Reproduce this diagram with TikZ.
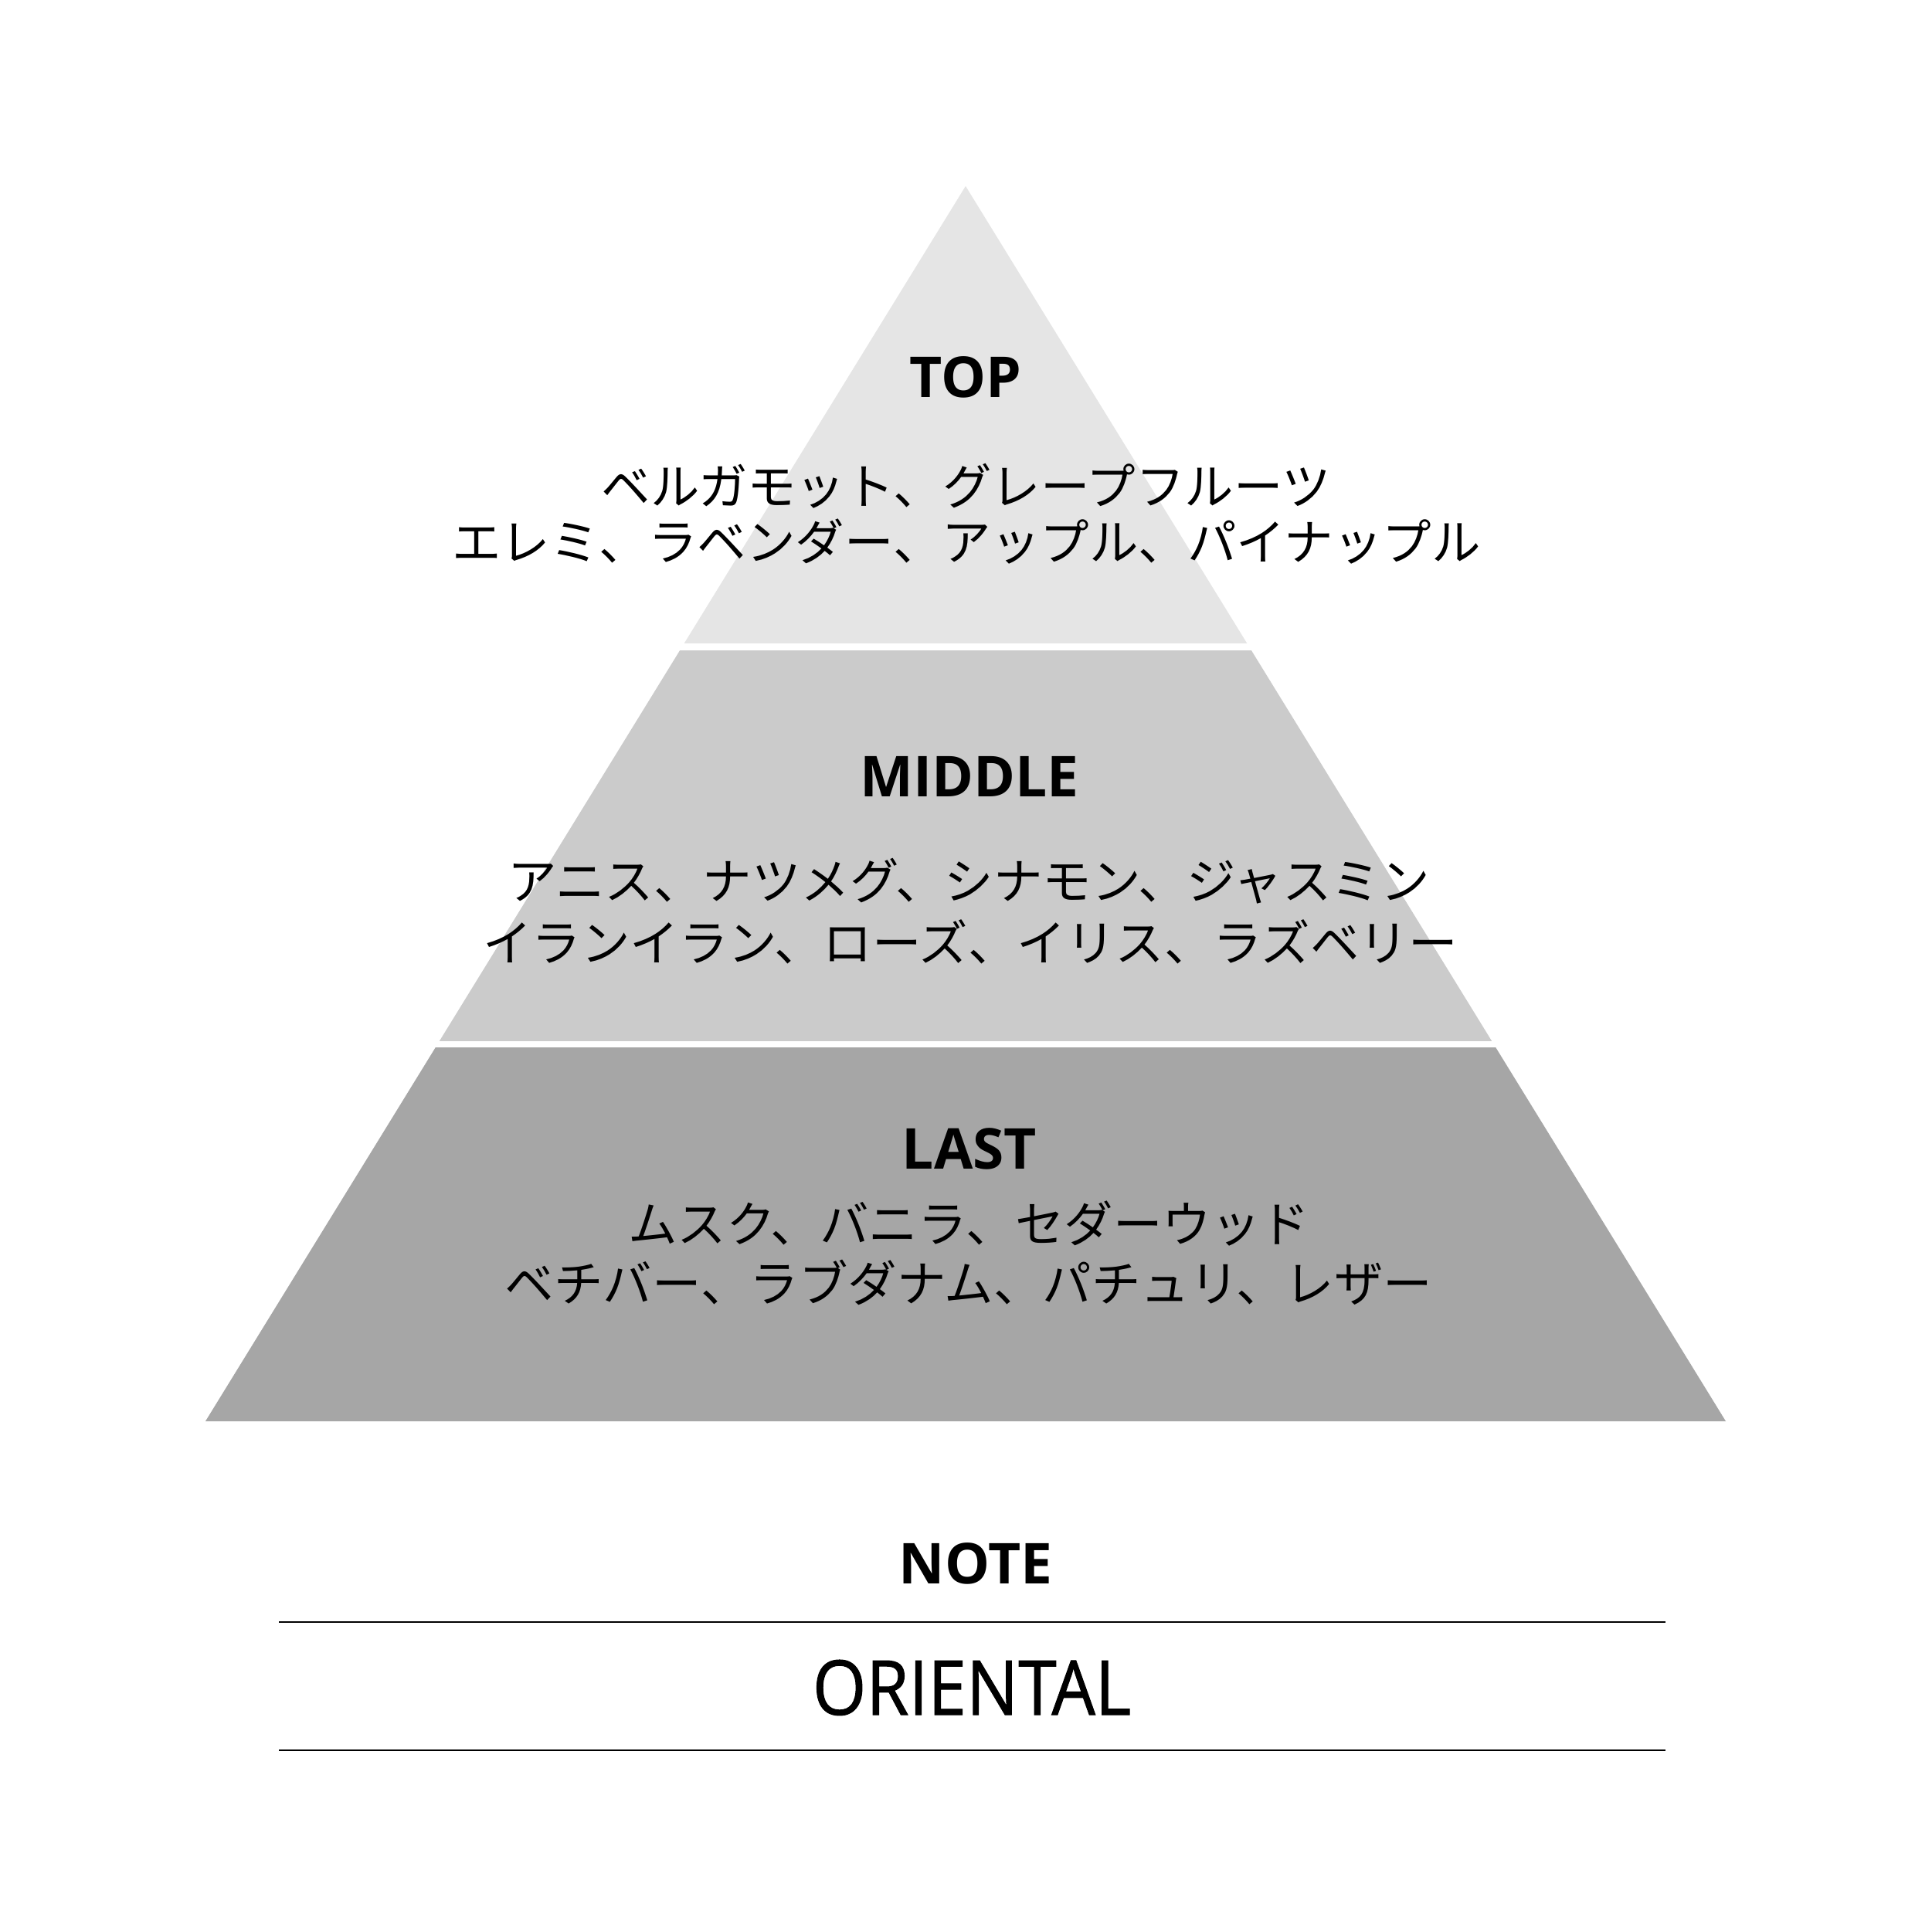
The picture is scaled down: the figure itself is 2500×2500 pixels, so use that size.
\documentclass[tikz,border=0pt]{standalone}
\usepackage{fontspec}
\setmainfont{Open Sans}
\newfontfamily\jpfont{Noto Sans CJK JP}
\newfontfamily\familyfont{Open Sans}[FakeStretch=0.91, FakeBold=1]
\usetikzlibrary{positioning}

\definecolor{topgray}{HTML}{E5E5E5}
\definecolor{middlegray}{HTML}{CBCBCB}
\definecolor{lastgray}{HTML}{A6A6A6}

\tikzset{
  notelabel/.style={anchor=base, inner sep=0pt, font=\fontsize{73}{80}\selectfont\bfseries},
  notelist/.style={anchor=center, inner sep=0pt, font=\jpfont\fontsize{63.5}{70}\selectfont},
  rule/.style={line width=2.2pt}
}

\begin{document}
\begin{tikzpicture}[x=1pt, y=-1pt]
    \fill [white] (0,0) rectangle (2500,2500);
    \useasboundingbox (0,0) rectangle (2500,2500);
    \coordinate (apex) at (1250,241);
    \coordinate (baseL) at (266,1840);
    \coordinate (baseR) at (2234,1840);
    % three layers, white gaps between them
    \begin{scope}
      \clip (apex) -- (baseL) -- (baseR) -- cycle;
      \fill [topgray] (0,200) rectangle (2500,833);
      \fill [middlegray] (0,842) rectangle (2500,1348);
      \fill [lastgray] (0,1356) rectangle (2500,1900);
    \end{scope}
    \node (top) at (1250,514) [notelabel] {TOP};
    \node (topA) at (1251,629) [notelist] {ベルガモット、グレープフルーツ};
    \node (topB) at (1251,701) [notelist] {エレミ、ラベンダー、アップル、パイナップル};
    \node (middle) at (1255,1031) [notelabel] {MIDDLE};
    \node (middleA) at (1254,1141) [notelist] {アニス、ナツメグ、シナモン、ジャスミン};
    \node (middleB) at (1256,1219) [notelist] {イランイラン、ローズ、イリス、ラズベリー};
    \node (last) at (1255,1513) [notelabel] {LAST};
    \node (lastA) at (1254,1584) [notelist] {ムスク、バニラ、セダーウッド};
    \node (lastB) at (1254,1660) [notelist] {ベチバー、ラブダナム、パチュリ、レザー};
    \node (note) at (1263,2050) [notelabel] {NOTE};
    \coordinate (ruleAL) at (361,2100);
    \coordinate (ruleAR) at (2156,2100);
    \coordinate (ruleBL) at (361,2266);
    \coordinate (ruleBR) at (2156,2266);
    \draw [rule] (ruleAL) -- (ruleAR);
    \draw [rule] (ruleBL) -- (ruleBR);
    \node (family) at (1258,2220) [anchor=base, inner sep=0pt, font=\familyfont\fontsize{98}{105}\selectfont] {ORIENTAL};
\end{tikzpicture}
\end{document}
